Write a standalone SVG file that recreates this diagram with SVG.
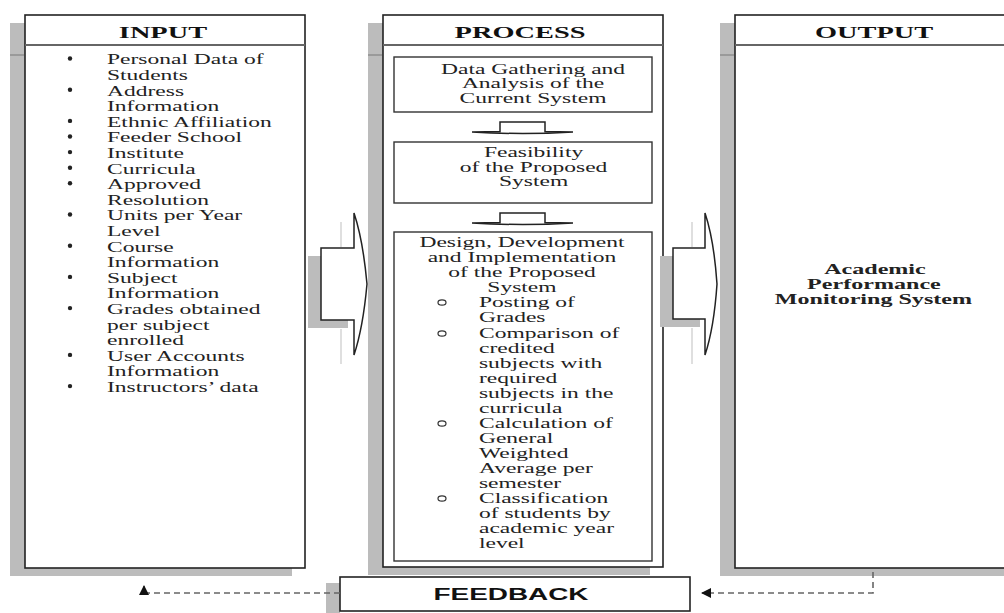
<svg xmlns="http://www.w3.org/2000/svg" width="1004" height="613" viewBox="0 0 1004 613">
<defs>
<style>
.box{fill:#fff;stroke:#222;stroke-width:1.6}
.inner{fill:#fff;stroke:#333;stroke-width:1.4}
.hdiv{stroke:#666;stroke-width:1.8}
.sh{fill:#bcbcbc}
.tick{fill:#9a9a9a}
.t{font-family:"Liberation Serif","Times New Roman",serif;font-size:14px;fill:#222}
.c{text-anchor:middle}
.h{font-family:"Liberation Serif","Times New Roman",serif;font-size:17px;font-weight:bold;fill:#111;text-anchor:middle}
.b{font-family:"Liberation Serif","Times New Roman",serif;font-size:14px;font-weight:bold;fill:#222;text-anchor:middle}
.fb{font-family:"Liberation Sans",Arial,sans-serif;font-size:16px;font-weight:bold;fill:#111;text-anchor:middle}
.blk{fill:#fff;stroke:#222;stroke-width:1.5}
.ghost{stroke:#d4d4d4;stroke-width:1.5;fill:none}
.dash{fill:none;stroke:#666;stroke-width:1.6;stroke-dasharray:6 4}
.bul{fill:#222}
.sub{fill:none;stroke:#333;stroke-width:1.2}
</style>
<marker id="ah" viewBox="0 0 10 10" refX="9" refY="5" markerWidth="12" markerHeight="10" markerUnits="userSpaceOnUse" orient="auto">
<path d="M0,0 L10,5 L0,10 Z" fill="#111"/>
</marker>
</defs>
<rect width="1004" height="613" fill="#fff"/>

<g id="input">
<rect class="sh" x="10" y="23" width="15" height="553"/>
<rect class="sh" x="10" y="567" width="282" height="9"/>
<rect class="tick" x="10" y="54" width="14" height="2"/>
<rect class="box" x="25" y="15" width="280" height="553"/>
<line class="hdiv" x1="25" y1="45" x2="305" y2="45"/>
<text class="h" transform="scale(1.67 1)" x="97.6" y="38">INPUT</text>
<g>
<circle class="bul" cx="70" cy="58.5" r="2.2"/>
<circle class="bul" cx="70" cy="89.7" r="2.2"/>
<circle class="bul" cx="70" cy="120.9" r="2.2"/>
<circle class="bul" cx="70" cy="136.5" r="2.2"/>
<circle class="bul" cx="70" cy="152.1" r="2.2"/>
<circle class="bul" cx="70" cy="167.7" r="2.2"/>
<circle class="bul" cx="70" cy="183.3" r="2.2"/>
<circle class="bul" cx="70" cy="214.5" r="2.2"/>
<circle class="bul" cx="70" cy="245.7" r="2.2"/>
<circle class="bul" cx="70" cy="276.9" r="2.2"/>
<circle class="bul" cx="70" cy="308.1" r="2.2"/>
<circle class="bul" cx="70" cy="354.9" r="2.2"/>
<circle class="bul" cx="70" cy="386.1" r="2.2"/>
</g>
<g class="t" transform="scale(1.68 1)">
<text x="63.7" y="64.5">Personal Data of</text>
<text x="63.7" y="80.1">Students</text>
<text x="63.7" y="95.7">Address</text>
<text x="63.7" y="111.3">Information</text>
<text x="63.7" y="126.9">Ethnic Affiliation</text>
<text x="63.7" y="142.5">Feeder School</text>
<text x="63.7" y="158.1">Institute</text>
<text x="63.7" y="173.7">Curricula</text>
<text x="63.7" y="189.3">Approved</text>
<text x="63.7" y="204.9">Resolution</text>
<text x="63.7" y="220.5">Units per Year</text>
<text x="63.7" y="236.1">Level</text>
<text x="63.7" y="251.7">Course</text>
<text x="63.7" y="267.3">Information</text>
<text x="63.7" y="282.9">Subject</text>
<text x="63.7" y="298.5">Information</text>
<text x="63.7" y="314.1">Grades obtained</text>
<text x="63.7" y="329.7">per subject</text>
<text x="63.7" y="345.3">enrolled</text>
<text x="63.7" y="360.9">User Accounts</text>
<text x="63.7" y="376.5">Information</text>
<text x="63.7" y="392.1">Instructors’ data</text>
</g>
</g>

<g id="process">
<rect class="sh" x="368" y="23" width="15" height="552"/>
<rect class="sh" x="368" y="567" width="282" height="8"/>
<rect class="tick" x="368" y="54" width="14" height="2"/>
<rect class="box" x="383" y="15" width="280" height="552"/>
<line class="hdiv" x1="383" y1="45" x2="663" y2="45"/>
<text class="h" transform="scale(1.67 1)" x="311.4" y="38">PROCESS</text>
</g>

<g id="step1">
<rect class="inner" x="394" y="57" width="258" height="55"/>
<g class="t c" transform="scale(1.68 1)">
<text x="317.3" y="74">Data Gathering and</text>
<text x="317.3" y="88.5">Analysis of the</text>
<text x="317.3" y="103">Current System</text>
</g>
</g>

<g id="step2">
<rect class="inner" x="394" y="142" width="258" height="61"/>
<g class="t c" transform="scale(1.68 1)">
<text x="317.6" y="157">Feasibility</text>
<text x="317.6" y="172">of the Proposed</text>
<text x="317.6" y="186.5">System</text>
</g>
</g>

<g id="step3">
<rect class="inner" x="394" y="232" width="258" height="329"/>
<g class="t c" transform="scale(1.68 1)">
<text x="310.7" y="247">Design, Development</text>
<text x="310.7" y="262">and Implementation</text>
<text x="310.7" y="277">of the Proposed</text>
<text x="310.7" y="292">System</text>
</g>
<g>
<ellipse class="sub" cx="442" cy="302.5" rx="4" ry="2.6"/>
<ellipse class="sub" cx="442" cy="333.5" rx="4" ry="2.6"/>
<ellipse class="sub" cx="442" cy="423.5" rx="4" ry="2.6"/>
<ellipse class="sub" cx="442" cy="498.5" rx="4" ry="2.6"/>
</g>
<g class="t" transform="scale(1.68 1)">
<text x="285.1" y="307">Posting of</text>
<text x="285.1" y="322">Grades</text>
<text x="285.1" y="338">Comparison of</text>
<text x="285.1" y="353">credited</text>
<text x="285.1" y="368">subjects with</text>
<text x="285.1" y="383">required</text>
<text x="285.1" y="398">subjects in the</text>
<text x="285.1" y="413">curricula</text>
<text x="285.1" y="428">Calculation of</text>
<text x="285.1" y="443">General</text>
<text x="285.1" y="458">Weighted</text>
<text x="285.1" y="473">Average per</text>
<text x="285.1" y="488">semester</text>
<text x="285.1" y="503">Classification</text>
<text x="285.1" y="518">of students by</text>
<text x="285.1" y="533">academic year</text>
<text x="285.1" y="548">level</text>
</g>
</g>

<g id="output">
<rect class="sh" x="720" y="23" width="15" height="553"/>
<rect class="sh" x="720" y="568" width="284" height="8"/>
<rect class="tick" x="720" y="54" width="14" height="2"/>
<rect class="box" x="735" y="15" width="290" height="553"/>
<line class="hdiv" x1="735" y1="45" x2="1004" y2="45"/>
<text class="h" transform="scale(1.67 1)" x="523.4" y="38">OUTPUT</text>
<g class="b" transform="scale(1.72 1)">
<text x="508.7" y="274">Academic</text>
<text x="508.1" y="289">Performance</text>
<text x="507.8" y="304">Monitoring System</text>
</g>
</g>

<g id="feedback">
<rect class="sh" x="326" y="583" width="14" height="30"/>
<rect class="box" x="340" y="577" width="350" height="34"/>
<text class="fb" x="511" y="600" textLength="155" lengthAdjust="spacingAndGlyphs">FEEDBACK</text>
</g>

<g id="connectors">
<g id="arrow-in-proc">
<rect class="sh" x="308" y="256" width="13" height="72"/>
<rect class="sh" x="308" y="320" width="40" height="8"/>
<line class="ghost" x1="341" y1="222" x2="341" y2="247"/>
<line class="ghost" x1="341" y1="329" x2="341" y2="364"/>
<path class="blk" d="M321,248 H354 V213 Q363,240 367,284 Q363,328 354,355 V320 H321 Z"/>
</g>
<g id="arrow-proc-out">
<rect class="sh" x="660" y="256" width="13" height="71"/>
<rect class="sh" x="660" y="319" width="40" height="8"/>
<line class="ghost" x1="692" y1="222" x2="692" y2="247"/>
<line class="ghost" x1="692" y1="328" x2="692" y2="364"/>
<path class="blk" d="M673,248 H705 V213 Q714,240 717,284 Q714,328 705,355 V319 H673 Z"/>
</g>
<path class="blk" stroke-width="1.2" d="M500,122 H545 V131.5 L573,132 Q523,135 472,132 L500,131.5 Z"/>
<path class="blk" stroke-width="1.2" d="M500,213 H545 V222.5 L573,223 Q523,226 472,223 L500,222.5 Z"/>
<path class="dash" d="M340,593 H144 V586" marker-end="url(#ah)"/>
<path class="dash" d="M873,572 V593 H702" marker-end="url(#ah)"/>
</g>
</svg>
